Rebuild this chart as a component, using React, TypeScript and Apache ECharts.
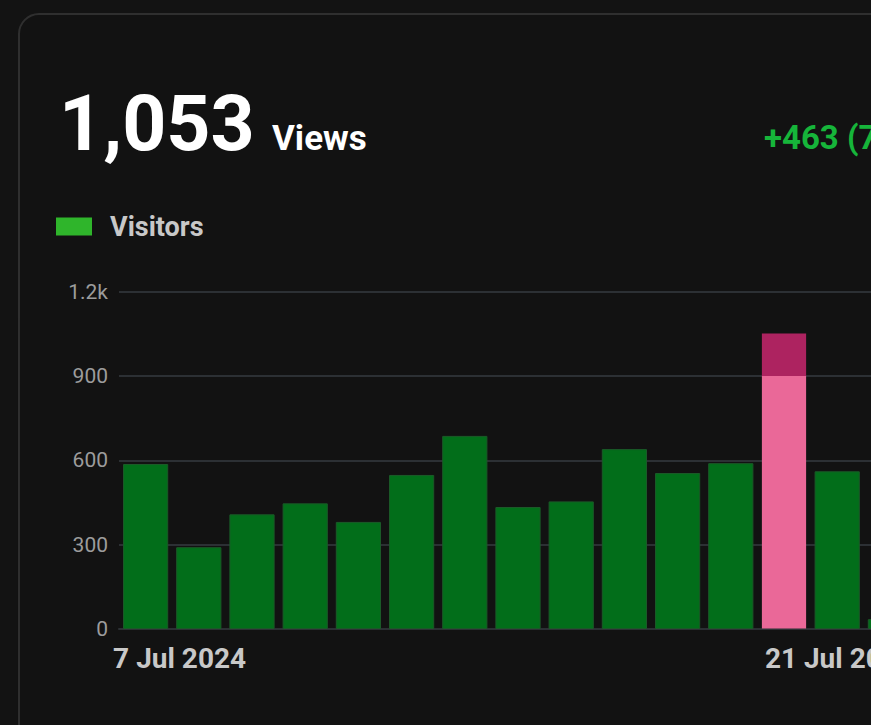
import React, { useEffect, useRef } from "react";
import * as echarts from "echarts";

// ---- data ----
const days = [
  "7 Jul", "8 Jul", "9 Jul", "10 Jul", "11 Jul", "12 Jul", "13 Jul", "14 Jul",
  "15 Jul", "16 Jul", "17 Jul", "18 Jul", "19 Jul", "20 Jul", "21 Jul",
];
const visitors = [587, 291, 408, 447, 381, 548, 687, 434, 454, 640, 555, 590, 1053, 561, 35];
const highlightIndex = 12;
const highlightThreshold = 900;
const tickLabelIndices = [0, 14];
const tickLabels = ["7 Jul 2024", "21 Jul 2024"];
const yTicks = [0, 300, 600, 900, 1200];
const headlineValue = "1,053";
const headlineUnit = "Views";
const changeText = "+463 (78.5%)";
const seriesName = "Visitors";

const FONT = "Roboto, 'Noto Sans', sans-serif";

export default function App() {
  const ref = useRef<HTMLDivElement>(null);

  useEffect(() => {
    if (!ref.current) return;
    const chart = echarts.init(ref.current, null, { renderer: "svg" });

    const hv = visitors[highlightIndex];
    const f = Math.max(0, (hv - highlightThreshold) / hv);
    const highlightColor = new echarts.graphic.LinearGradient(0, 0, 0, 1, [
      { offset: 0, color: "#ad2360" },
      { offset: f, color: "#ad2360" },
      { offset: f, color: "#ea6898" },
      { offset: 1, color: "#ea6898" },
    ]);

    const data = visitors.map((v, i) =>
      i === highlightIndex
        ? { value: v, itemStyle: { color: highlightColor, borderColor: "rgba(0,0,0,0)" } }
        : v
    );

    chart.setOption({
      animation: false,
      backgroundColor: "#131313",
      textStyle: { fontFamily: FONT },
      graphic: [
        {
          type: "rect",
          z: -10,
          shape: { x: 19, y: 14, width: 1200, height: 900, r: 20 },
          style: { fill: "#121212", stroke: "#2f2f2f", lineWidth: 2 },
        },
        {
          type: "text",
          x: 59,
          y: 124,
          style: {
            text: headlineValue,
            fill: "#ffffff",
            font: `bold 77px ${FONT}`,
            verticalAlign: "middle",
          },
        },
        {
          type: "text",
          x: 272,
          y: 138,
          style: {
            text: headlineUnit,
            fill: "#ffffff",
            font: `bold 35px ${FONT}`,
            verticalAlign: "middle",
          },
        },
        {
          type: "text",
          x: 764,
          y: 137,
          style: {
            text: changeText,
            fill: "#16b53a",
            font: `bold 33px ${FONT}`,
            verticalAlign: "middle",
          },
        },
      ],
      legend: {
        left: 56,
        top: 213,
        padding: 0,
        itemWidth: 36,
        itemHeight: 18,
        icon: "rect",
        data: [{ name: seriesName, itemStyle: { color: "#2fb52b", borderWidth: 0 } }],
        textStyle: {
          color: "#c8c8c8",
          fontSize: 27,
          fontWeight: "bold",
          fontFamily: FONT,
          padding: [0, 0, 0, 13],
        },
      },
      grid: { left: 119, top: 291.7, width: 798, height: 337.3, containLabel: false },
      xAxis: {
        type: "category",
        data: days,
        axisLine: { lineStyle: { color: "#2c3034", width: 2 } },
        axisTick: { show: false },
        axisLabel: {
          interval: 0,
          margin: 15,
          color: "#c8c8c8",
          fontSize: 28,
          fontWeight: "bold",
          fontFamily: FONT,
          formatter: (_v: string, idx: number) => {
            const k = tickLabelIndices.indexOf(idx);
            if (k < 0) return "";
            return k === 0 ? `{a|${tickLabels[k]}}` : `{b|${tickLabels[k]}}`;
          },
          rich: {
            a: {
              color: "#c8c8c8",
              fontSize: 28,
              fontWeight: "bold",
              fontFamily: FONT,
              padding: [0, 0, 0, 68],
            },
            b: {
              color: "#c8c8c8",
              fontSize: 28,
              fontWeight: "bold",
              fontFamily: FONT,
              padding: [0, 102, 0, 0],
            },
          },
        },
      },
      yAxis: {
        type: "value",
        min: yTicks[0],
        max: yTicks[yTicks.length - 1],
        interval: yTicks[1] - yTicks[0],
        axisLine: { show: false },
        axisTick: { show: false },
        splitLine: { lineStyle: { color: "#2c3034", width: 2 } },
        axisLabel: {
          margin: 11,
          color: "#9c9c9c",
          fontSize: 21,
          fontFamily: FONT,
          formatter: (v: number) => (v >= 1000 ? `${v / 1000}k` : `${v}`),
        },
      },
      series: [
        {
          name: seriesName,
          type: "bar",
          data,
          barCategoryGap: "15%",
          itemStyle: { color: "#026e1a", borderColor: "#1b5a28", borderWidth: 1 },
        },
      ],
    });

    return () => chart.dispose();
  }, []);

  return (
    <div
      style={{
        position: "fixed",
        left: 0,
        top: 0,
        width: "100vw",
        height: "100vh",
        overflow: "hidden",
        background: "#131313",
      }}
    >
      <div ref={ref} style={{ width: 1000, height: 725 }} />
    </div>
  );
}
